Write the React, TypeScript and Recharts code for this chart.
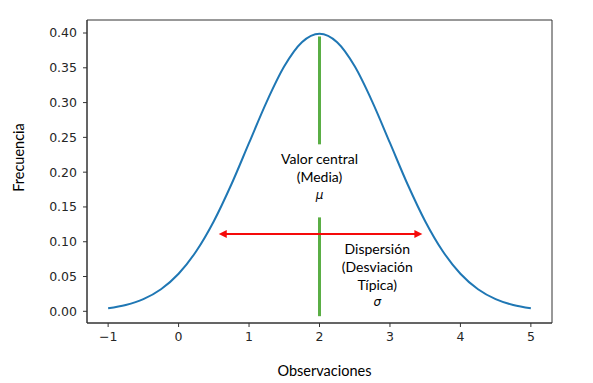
import React from "react";
import {
  LineChart,
  Line,
  XAxis,
  YAxis,
  ReferenceLine,
  ReferenceDot,
  ReferenceArea,
} from "recharts";

// observaciones and frecuencia
const obs = [-1, -0.75, -0.5, -0.25, 0, 0.25, 0.5, 0.75, 1, 1.25, 1.5, 1.75, 2, 2.25, 2.5, 2.75, 3, 3.25, 3.5, 3.75, 4, 4.25, 4.5, 4.75, 5];
const freq = [0.0044, 0.0091, 0.0175, 0.0317, 0.054, 0.0863, 0.1295, 0.1826, 0.242, 0.3011, 0.3521, 0.3867, 0.3989, 0.3867, 0.3521, 0.3011, 0.242, 0.1826, 0.1295, 0.0863, 0.054, 0.0317, 0.0175, 0.0091, 0.0044];

const xTicks = [-1, 0, 1, 2, 3, 4, 5];
const yTicks = [0, 0.05, 0.1, 0.15, 0.2, 0.25, 0.3, 0.35, 0.4];
const xDomain = [-1.3, 5.3];
const yDomain = [-0.0168, 0.4187];

const media = 2;
const mediaTop = [0.395, 0.24];
const mediaBottom = [0.135, -0.007];
const dispersion = { from: 0.57, to: 3.46, y: 0.111 };

const mediaLabel = ["Valor central", "(Media)", "\u03bc"];
const dispLabel = ["Dispersión", "(Desviación", "Típica)", "\u03c3"];

const data = obs.map((x, i) => ({ x, y: freq[i] }));

const GREEN = "#5aae45";
const RED = "#f50a0a";
const BLUE = "#1f77b4";
const tickStyle = { fill: "#262626", fontSize: 12.5, fontFamily: "DejaVu Sans" };

function Arrow(props: any) {
  const { x1, y1, x2, y2 } = props;
  const h = 8;
  const w = 4;
  return (
    <g>
      <line x1={x1 + h - 1} y1={y1} x2={x2 - h + 1} y2={y2} stroke={RED} strokeWidth={2} />
      <polygon points={`${x1},${y1} ${x1 + h},${y1 - w} ${x1 + h},${y1 + w}`} fill={RED} />
      <polygon points={`${x2},${y2} ${x2 - h},${y2 - w} ${x2 - h},${y2 + w}`} fill={RED} />
    </g>
  );
}

function textBlock(lines: string[], step: number) {
  return (props: any) => {
    const { cx, cy } = props;
    return (
      <g>
        {lines.map((t, i) => {
          const greek = i === lines.length - 1;
          return (
            <text
              key={i}
              x={cx}
              y={cy + i * step}
              textAnchor="middle"
              dominantBaseline="central"
              fill="#000"
              fontSize={greek ? 12 : 14}
              fontStyle={greek ? "italic" : "normal"}
              fontFamily={greek ? "DejaVu Sans" : "Lato"}
            >
              {t}
            </text>
          );
        })}
      </g>
    );
  };
}

export default function App() {
  return (
    <div style={{ position: "absolute", left: 0, top: 0, background: "#fff" }}>
      <LineChart width={593} height={383} data={data} margin={{ top: 20, right: 41, bottom: 30, left: 0 }}>
        <XAxis
          dataKey="x"
          type="number"
          domain={xDomain}
          ticks={xTicks}
          tickFormatter={(v) => String(v).replace("-", "\u2212")}
          tick={tickStyle}
          tickSize={4}
          tickMargin={5}
          tickLine={{ stroke: "#333" }}
          axisLine={{ stroke: "#333" }}
          height={30}
          allowDataOverflow
          label={{
            content: (p: any) => (
              <text
                x={p.viewBox.x + p.viewBox.width / 2 + 5}
                y={p.viewBox.y + 47}
                textAnchor="middle"
                dominantBaseline="central"
                fontSize={14.5}
                fontFamily="Lato"
                fill="#000"
              >
                Observaciones
              </text>
            ),
          }}
        />
        <YAxis
          type="number"
          domain={yDomain}
          ticks={yTicks}
          tickFormatter={(v) => v.toFixed(2)}
          tick={tickStyle}
          tickSize={4}
          tickMargin={6}
          tickLine={{ stroke: "#333" }}
          axisLine={{ stroke: "#333" }}
          width={87}
          allowDataOverflow
          label={{
            content: (p: any) => {
              const cx = 18;
              const cy = p.viewBox.y + p.viewBox.height / 2 - 14;
              return (
                <text
                  x={cx}
                  y={cy}
                  transform={`rotate(-90 ${cx} ${cy})`}
                  textAnchor="middle"
                  dominantBaseline="central"
                  fontSize={14.5}
                  fontFamily="Lato"
                  fill="#000"
                >
                  Frecuencia
                </text>
              );
            },
          }}
        />
        <ReferenceArea
          x1={xDomain[0]}
          x2={xDomain[1]}
          y1={yDomain[0]}
          y2={yDomain[1]}
          fill="none"
          fillOpacity={0}
          stroke="#333"
          strokeWidth={1}
        />
        <Line dataKey="y" type="monotone" stroke={BLUE} strokeWidth={2} dot={false} isAnimationActive={false} />
        <ReferenceLine
          segment={[{ x: media, y: mediaTop[0] }, { x: media, y: mediaTop[1] }]}
          stroke={GREEN}
          strokeWidth={3}
        />
        <ReferenceLine
          segment={[{ x: media, y: mediaBottom[0] }, { x: media, y: mediaBottom[1] }]}
          stroke={GREEN}
          strokeWidth={3}
        />
        <ReferenceLine
          segment={[{ x: dispersion.from, y: dispersion.y }, { x: dispersion.to, y: dispersion.y }]}
          shape={(p: any) => <Arrow {...p} />}
        />
        <ReferenceDot x={media} y={0.22} r={0} shape={textBlock(mediaLabel, 18.5)} />
        <ReferenceDot x={2.82} y={0.0906} r={0} shape={textBlock(dispLabel, 18)} />
      </LineChart>
    </div>
  );
}
